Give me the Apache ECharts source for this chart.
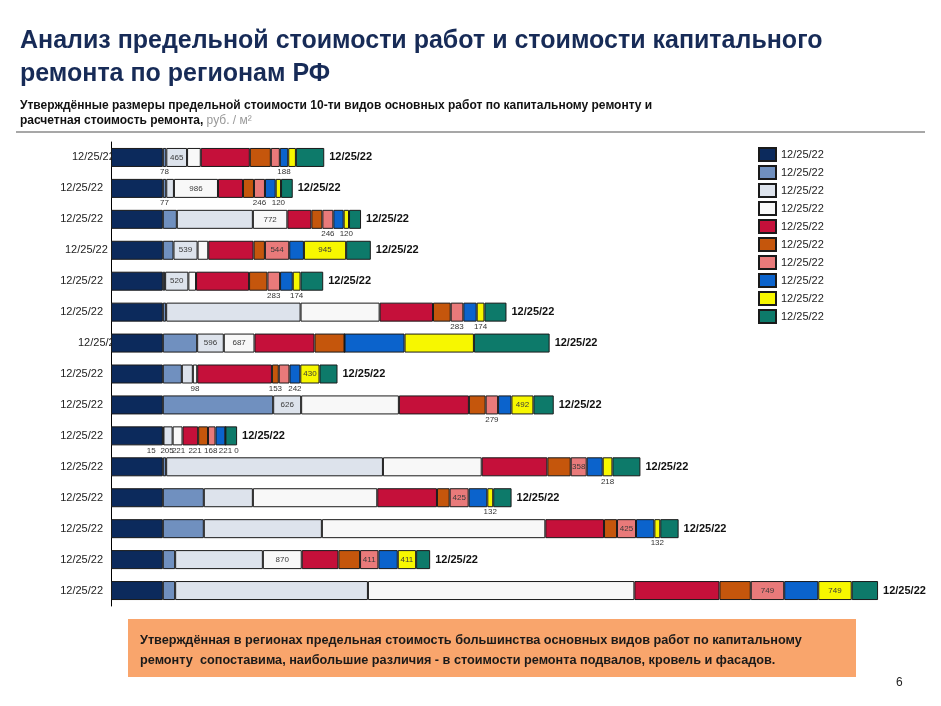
<!DOCTYPE html>
<html><head><meta charset="utf-8">
<script src="https://cdn.jsdelivr.net/npm/echarts@6/dist/echarts.min.js"></script>
<style>html,body{margin:0;padding:0;background:#fff}#c{width:941px;height:706px}</style>
</head><body><div id="c"></div>
<script>
// ---------- DATA ----------
const categories = ['12/25/22','12/25/22','12/25/22','12/25/22','12/25/22','12/25/22','12/25/22','12/25/22','12/25/22','12/25/22','12/25/22','12/25/22','12/25/22','12/25/22','12/25/22'];
const endLabels  = ['12/25/22','12/25/22','12/25/22','12/25/22','12/25/22','12/25/22','12/25/22','12/25/22','12/25/22','12/25/22','12/25/22','12/25/22','12/25/22','12/25/22','12/25/22'];
const legendLabels = ['12/25/22','12/25/22','12/25/22','12/25/22','12/25/22','12/25/22','12/25/22','12/25/22','12/25/22','12/25/22'];
const seriesNames = ['w1','w2','w3','w4','w5','w6','w7','w8','w9','w10'];

const work1  = [1160,1160,1160,1160,1160,1160,1160,1160,1160,1160,1160,1160,1160,1160,1160];
const work2  = [78,77,314,239,52,75,769,426,2471,15,75,918,918,276,276];
const work3  = [465,172,1702,539,520,3009,596,246,626,205,4853,1098,2643,1964,4316];
const work4  = [307,986,772,239,172,1770,687,98,2188,221,2211,2785,5003,870,5966];
const work5  = [1098,560,538,1015,1187,1195,1344,1673,1568,350,1470,1337,1314,821,1904];
const work6  = [470,246,246,254,411,396,672,153,374,221,523,284,291,485,701];
const work7  = [202,246,246,544,283,283,0,240,279,168,358,425,425,411,749];
const work8  = [188,240,231,329,284,299,1344,242,299,221,358,418,411,433,762];
const work9  = [172,120,120,945,174,174,1553,430,492,0,218,132,132,411,749];
const work10 = [634,262,269,553,508,493,1695,403,455,262,627,411,411,314,590];
const allSeries = [work1,work2,work3,work4,work5,work6,work7,work8,work9,work10];

// which values are shown as numbers: [row, series]
const shownInside = [[0,2],[1,3],[2,3],[3,2],[3,6],[3,8],[4,2],[6,2],[6,3],[7,8],[8,2],[8,8],[10,6],[11,6],[12,6],[13,3],[13,6],[13,8],[14,6],[14,8]];
const shownBelow  = [[0,1],[0,7],[1,1],[1,6],[1,8],[2,6],[2,8],[4,6],[4,8],[5,6],[5,8],[7,3],[7,5],[7,7],[8,6],[9,1],[9,2],[9,3],[9,5],[9,6],[9,7],[9,8],[10,8],[11,8],[12,8]];

// ---------- STYLE ----------
const colors = ['#0c2a5c','#7090bf','#dde3ec','#f8f8f8','#c5103a','#c5560c','#e97a7a','#0b63cc','#f7f700','#0d7a6a'];
const belowOffsets = {'9,1':[-12,0],'9,2':[-1,0],'9,3':[1,0],'9,5':[-8,0],'9,6':[-1,0],'9,7':[5,0],'9,8':[11,0]};
const catLabelWidth = {0:31, 3:38, 6:25};
const FONT = '"Liberation Sans", Arial, sans-serif';

const series = allSeries.map((arr, s) => ({
  type: 'bar', name: seriesNames[s], stack: 'total', barWidth: 19,
  itemStyle: {color: colors[s], borderColor: '#1a1a1a', borderWidth: 1},
  emphasis: {disabled: true},
  label: s === 9 ? {show: true, position: 'right', distance: 5, fontFamily: FONT, fontWeight: 'bold', fontSize: 11, color: '#111',
    formatter: p => endLabels[p.dataIndex]} : {show: false},
  data: arr.map((v, r) => {
    const isIn = shownInside.some(q => q[0] === r && q[1] === s);
    const isBelow = shownBelow.some(q => q[0] === r && q[1] === s);
    if (isIn) return {value: v, label: {show: true, position: 'inside', fontSize: 8, fontFamily: FONT, color: '#3a3a3a', formatter: '{c}'}};
    if (isBelow) return {value: v, label: {show: true, position: 'bottom', distance: 1, fontSize: 8, fontFamily: FONT, color: '#333', formatter: '{c}', offset: belowOffsets[r + ',' + s] || [0,0]}};
    return v;
  })
}));

const rich = {};
Object.keys(catLabelWidth).forEach(k => { rich['w' + k] = {width: catLabelWidth[k], align: 'left', fontSize: 11, color: '#222', fontFamily: FONT}; });

const chart = echarts.init(document.getElementById('c'), null, {renderer: 'canvas'});
chart.setOption({
  animation: false,
  backgroundColor: '#fff',
  textStyle: {fontFamily: FONT},
  grid: {left: 111, top: 142, width: 804, height: 464},
  xAxis: {type: 'value', min: 0, max: 18000, show: false},
  yAxis: {
    type: 'category', data: categories, inverse: true,
    axisLine: {show: true, lineStyle: {color: '#000', width: 1}},
    axisTick: {show: false},
    axisLabel: {fontSize: 11, color: '#222', margin: 8, fontFamily: FONT,
      formatter: (v, i) => catLabelWidth[i] ? '{w' + i + '|' + v + '}' : v,
      rich: rich}
  },
  legend: {
    data: seriesNames, orient: 'vertical', left: 758, top: 147, padding: 0,
    itemWidth: 17, itemHeight: 13, itemGap: 3, icon: 'rect', selectedMode: false,
    textStyle: {fontSize: 11, color: '#222', fontFamily: FONT},
    formatter: name => legendLabels[seriesNames.indexOf(name)]
  },
  series: series,
  graphic: [
    {type: 'text', left: 20, top: 25, style: {text: 'Анализ предельной стоимости работ и стоимости капитального\nремонта по регионам РФ', font: 'bold 25px ' + FONT, fill: '#172b57', lineHeight: 33}},
    {type: 'text', left: 20, top: 100, style: {
      text: '{b|Утверждённые размеры предельной стоимости 10-ти видов основных работ по капитальному ремонту и}\n{b|расчетная стоимость ремонта,} {g|руб. / м²}',
      rich: {b: {font: 'bold 12px ' + FONT, fill: '#111', lineHeight: 15}, g: {font: '12px ' + FONT, fill: '#999', lineHeight: 15}}}},
    {type: 'line', shape: {x1: 16, y1: 132, x2: 925, y2: 132}, style: {stroke: '#8a8a8a', lineWidth: 1.5}},
    {type: 'rect', shape: {x: 128, y: 619, width: 728, height: 58}, style: {fill: '#f9a56c'}},
    {type: 'text', left: 140, top: 630, style: {text: 'Утверждённая в регионах предельная стоимость большинства основных видов работ по капитальному\nремонту  сопоставима, наибольшие различия - в стоимости ремонта подвалов, кровель и фасадов.', font: 'bold 12.7px ' + FONT, fill: '#1a1a1a', lineHeight: 20}},
    {type: 'text', left: 896, top: 677, style: {text: '6', font: '12px ' + FONT, fill: '#222'}}
  ]
});
</script></body></html>
